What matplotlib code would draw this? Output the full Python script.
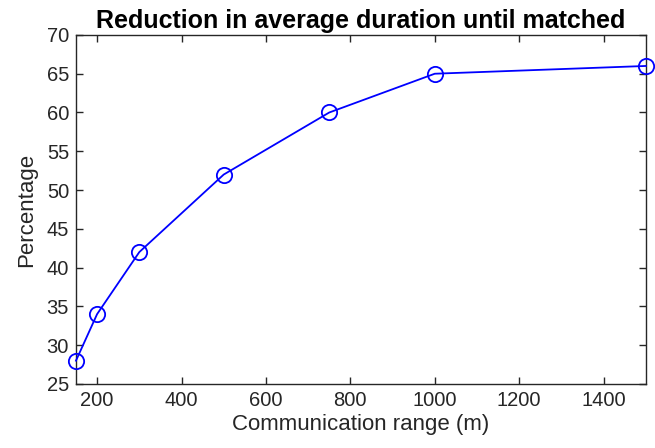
import matplotlib
matplotlib.use('Agg')
import matplotlib.pyplot as plt

plt.rcParams['font.family'] = ['Liberation Sans', 'DejaVu Sans']

comm_range = [150, 200, 300, 500, 750, 1000, 1500]
reduction = [28, 34, 42, 52, 60, 65, 66]
x_ticks = [200, 400, 600, 800, 1000, 1200, 1400]
y_ticks = [25, 30, 35, 40, 45, 50, 55, 60, 65, 70]

fig = plt.figure(figsize=(6.55, 4.48), dpi=100)
ax = fig.add_axes([0.116, 0.143, 0.870, 0.779])

ax.plot(comm_range, reduction, color='#0000ff', linewidth=1.3, marker='o',
        markersize=11, markerfacecolor='none', markeredgecolor='#0000ff',
        markeredgewidth=1.3, clip_on=False, zorder=3)

ax.set_xlim(150, 1500)
ax.set_ylim(25, 70)
ax.set_xticks(x_ticks)
ax.set_yticks(y_ticks)

ax.tick_params(direction='in', length=5, width=1, colors='#262626', pad=5,
               labelsize=14.5, top=True, right=True, labeltop=False, labelright=False)
for s in ax.spines.values():
    s.set_color('#262626')
    s.set_linewidth(1)

ax.set_title('Reduction in average duration until matched', fontsize=18,
             fontweight='bold', pad=5)
ax.set_xlabel('Communication range (m)', fontsize=16, color='#262626', labelpad=3)
ax.set_ylabel('Percentage', fontsize=16, color='#262626', labelpad=7)

fig.savefig('out.png', dpi=100)
